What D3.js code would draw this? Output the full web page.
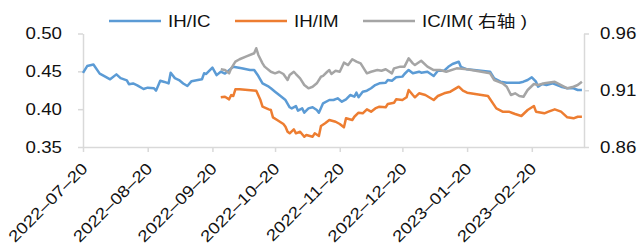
<!DOCTYPE html>
<html>
<head>
<meta charset="utf-8">
<script src="https://cdn.jsdelivr.net/npm/d3@7"></script>
<style>
  body { margin: 0; background: #fff; }
  text { font-family: "Liberation Sans", Arial, "Noto Sans CJK SC", sans-serif; fill: #111; }
</style>
</head>
<body>
<div id="chart"></div>
<script>
// IH/IC (left axis)
var ihicDates = ["2022-07-20","2022-07-22","2022-07-25","2022-07-28","2022-07-30","2022-08-02","2022-08-05","2022-08-07","2022-08-10","2022-08-11","2022-08-13","2022-08-15","2022-08-18","2022-08-20","2022-08-23","2022-08-24","2022-08-26","2022-08-28","2022-08-30","2022-08-31","2022-09-02","2022-09-04","2022-09-06","2022-09-08","2022-09-10","2022-09-13","2022-09-15","2022-09-16","2022-09-17","2022-09-20","2022-09-22","2022-09-24","2022-09-26","2022-09-30","2022-10-04","2022-10-08","2022-10-10","2022-10-12","2022-10-14","2022-10-17","2022-10-18","2022-10-20","2022-10-22","2022-10-25","2022-10-27","2022-10-28","2022-10-30","2022-10-31","2022-11-02","2022-11-03","2022-11-05","2022-11-07","2022-11-09","2022-11-10","2022-11-12","2022-11-15","2022-11-17","2022-11-19","2022-11-21","2022-11-23","2022-11-25","2022-11-27","2022-11-28","2022-11-29","2022-12-01","2022-12-03","2022-12-05","2022-12-07","2022-12-09","2022-12-12","2022-12-13","2022-12-15","2022-12-17","2022-12-20","2022-12-21","2022-12-23","2022-12-25","2022-12-28","2022-12-29","2023-01-01","2023-01-04","2023-01-06","2023-01-09","2023-01-11","2023-01-13","2023-01-16","2023-01-17","2023-01-20","2023-01-31","2023-02-02","2023-02-05","2023-02-08","2023-02-12","2023-02-14","2023-02-16","2023-02-18","2023-02-20","2023-02-22","2023-02-23","2023-02-25","2023-02-27","2023-03-02","2023-03-06","2023-03-09","2023-03-12","2023-03-14","2023-03-16"];
var ihicValues = [0.448,0.457,0.459,0.447,0.444,0.4395,0.446,0.441,0.438,0.433,0.434,0.4315,0.4267,0.4284,0.4276,0.4245,0.4376,0.436,0.434,0.448,0.441,0.4385,0.434,0.4306,0.437,0.4385,0.4395,0.4474,0.4465,0.455,0.445,0.4495,0.447,0.456,0.454,0.4518,0.4518,0.4438,0.434,0.4297,0.4276,0.4231,0.4187,0.4121,0.4025,0.401,0.404,0.398,0.401,0.3953,0.401,0.4025,0.3989,0.3953,0.4077,0.4121,0.4121,0.4143,0.4099,0.413,0.4187,0.4165,0.4218,0.4157,0.4231,0.4244,0.4276,0.4319,0.4342,0.435,0.4385,0.4376,0.4421,0.443,0.4465,0.4518,0.4474,0.4495,0.4482,0.4495,0.4438,0.4508,0.4508,0.456,0.4597,0.4627,0.456,0.4527,0.4495,0.4408,0.4363,0.435,0.435,0.435,0.4363,0.4385,0.4421,0.4363,0.4297,0.4333,0.4319,0.4342,0.4297,0.4276,0.4276,0.4253,0.4253];

// IH/IM (left axis)
var ihimDates = ["2022-09-24","2022-09-26","2022-09-28","2022-09-29","2022-09-30","2022-10-01","2022-10-03","2022-10-11","2022-10-13","2022-10-14","2022-10-17","2022-10-18","2022-10-19","2022-10-21","2022-10-24","2022-10-25","2022-10-26","2022-10-27","2022-10-29","2022-10-30","2022-11-01","2022-11-03","2022-11-04","2022-11-07","2022-11-08","2022-11-10","2022-11-11","2022-11-13","2022-11-15","2022-11-18","2022-11-20","2022-11-22","2022-11-23","2022-11-26","2022-11-27","2022-11-29","2022-12-01","2022-12-03","2022-12-05","2022-12-07","2022-12-09","2022-12-12","2022-12-13","2022-12-16","2022-12-17","2022-12-20","2022-12-22","2022-12-23","2022-12-25","2022-12-26","2022-12-28","2022-12-31","2023-01-04","2023-01-06","2023-01-09","2023-01-12","2023-01-16","2023-01-18","2023-01-20","2023-01-30","2023-02-03","2023-02-06","2023-02-09","2023-02-12","2023-02-15","2023-02-18","2023-02-21","2023-02-22","2023-02-26","2023-02-28","2023-03-03","2023-03-06","2023-03-09","2023-03-12","2023-03-14","2023-03-16"];
var ihimValues = [0.4157,0.4165,0.413,0.4187,0.4174,0.4262,0.4262,0.4244,0.4121,0.4033,0.3998,0.3989,0.3892,0.3857,0.3804,0.3768,0.3702,0.3681,0.3734,0.3681,0.3702,0.3636,0.3659,0.3636,0.3681,0.3645,0.3778,0.3813,0.3857,0.3834,0.3804,0.376,0.3879,0.3857,0.39,0.3953,0.3945,0.3998,0.3967,0.401,0.4033,0.4025,0.4068,0.4085,0.413,0.4121,0.4157,0.4253,0.4187,0.4157,0.421,0.4187,0.4121,0.4174,0.421,0.4231,0.4297,0.4244,0.4218,0.4174,0.401,0.3967,0.3967,0.3936,0.391,0.3989,0.4042,0.3967,0.3945,0.3967,0.3998,0.3967,0.3892,0.3879,0.39,0.39];

// IC/IM (right axis)
var icimDates = ["2022-09-24","2022-09-26","2022-09-28","2022-09-29","2022-10-01","2022-10-03","2022-10-06","2022-10-10","2022-10-11","2022-10-12","2022-10-14","2022-10-15","2022-10-18","2022-10-20","2022-10-22","2022-10-24","2022-10-26","2022-10-27","2022-10-29","2022-10-30","2022-11-01","2022-11-03","2022-11-05","2022-11-07","2022-11-09","2022-11-11","2022-11-12","2022-11-14","2022-11-15","2022-11-16","2022-11-18","2022-11-20","2022-11-22","2022-11-24","2022-11-26","2022-11-28","2022-11-30","2022-12-03","2022-12-05","2022-12-08","2022-12-10","2022-12-12","2022-12-15","2022-12-16","2022-12-19","2022-12-21","2022-12-23","2022-12-25","2022-12-26","2022-12-29","2023-01-01","2023-01-04","2023-01-07","2023-01-10","2023-01-15","2023-01-20","2023-01-31","2023-02-02","2023-02-06","2023-02-08","2023-02-10","2023-02-12","2023-02-14","2023-02-16","2023-02-18","2023-02-21","2023-02-23","2023-02-26","2023-03-03","2023-03-06","2023-03-09","2023-03-12","2023-03-14","2023-03-16"];
var icimValues = [0.9285,0.9278,0.9249,0.9293,0.9352,0.9373,0.9396,0.9426,0.947,0.9411,0.9337,0.9308,0.9263,0.9249,0.9263,0.9243,0.919,0.9234,0.9263,0.9243,0.9205,0.9146,0.9117,0.9131,0.9161,0.9219,0.9226,0.9263,0.9278,0.9243,0.9272,0.9263,0.9343,0.9322,0.9373,0.9352,0.9337,0.9249,0.9263,0.9278,0.9272,0.9285,0.9249,0.9293,0.9308,0.9308,0.9381,0.9337,0.9322,0.936,0.9308,0.9278,0.9278,0.9263,0.9293,0.9285,0.9249,0.919,0.9161,0.9131,0.9058,0.9073,0.9049,0.9043,0.9102,0.9155,0.9146,0.9161,0.9175,0.9146,0.9117,0.9131,0.9146,0.9175];

var seriesNames = ["IH/IC", "IH/IM", "IC/IM( 右轴 )"];
var xTickDates = ["2022-07-20","2022-08-20","2022-09-20","2022-10-20","2022-11-20","2022-12-20","2023-01-20","2023-02-20"];
var leftTicks = [0.35, 0.40, 0.45, 0.50];
var rightTicks = [0.86, 0.91, 0.96];

var colors = ["#5b9bd5", "#ed7d31", "#a5a5a5"];
var width = 637, height = 245;
var plotLeft = 83, plotRight = 584, plotTop = 33.5, plotBottom = 147;
var stretch = 1.17; // glyphs in the picture are a bit wide
var parse = d3.timeParse("%Y-%m-%d");

var svg = d3.select("#chart").append("svg")
  .attr("width", width)
  .attr("height", height);

var x = d3.scaleTime()
  .domain([parse("2022-07-20"), parse("2023-03-17")])
  .range([plotLeft, plotRight]);
var yL = d3.scaleLinear().domain([0.35, 0.50]).range([plotBottom, plotTop]);
var yR = d3.scaleLinear().domain([0.86, 0.96]).range([plotBottom, plotTop]);

function styleAxis(g) {
  g.select(".domain").attr("stroke", "#d9d9d9").attr("stroke-width", 1.5);
  g.selectAll(".tick line").attr("stroke", "#d9d9d9").attr("stroke-width", 1.5);
  g.selectAll("text").attr("font-size", 16)
    .attr("font-family", "'Liberation Sans', Arial, sans-serif").attr("fill", "#111");
}

// left axis
var gL = svg.append("g").attr("transform", "translate(" + plotLeft + ",0)")
  .call(d3.axisLeft(yL).tickValues(leftTicks).tickFormat(d3.format(".2f"))
    .tickSize(5).tickSizeOuter(0));
styleAxis(gL);
gL.selectAll("text").attr("x", -21 / stretch).attr("transform", "scale(" + stretch + ",1)");

// right axis
var gR = svg.append("g").attr("transform", "translate(" + plotRight + ",0)")
  .call(d3.axisRight(yR).tickValues(rightTicks).tickFormat(d3.format(".2f"))
    .tickSize(5).tickSizeOuter(0));
styleAxis(gR);
gR.selectAll("text").attr("x", 16 / stretch).attr("transform", "scale(" + stretch + ",1)");

// bottom axis
var gB = svg.append("g").attr("transform", "translate(0," + plotBottom + ")")
  .call(d3.axisBottom(x).tickValues(xTickDates.map(parse))
    .tickFormat(function(d) { return d3.timeFormat("%Y–%m–%d")(d); })
    .tickSize(5).tickSizeOuter(0));
styleAxis(gB);
gB.selectAll("text")
  .attr("x", 0).attr("y", 0).attr("dy", "0.71em")
  .attr("text-anchor", "end")
  .attr("transform", "translate(-3,14.5) rotate(-45) scale(" + stretch + ",1)");

// lines
var data = [
  {dates: ihicDates, values: ihicValues, y: yL},
  {dates: ihimDates, values: ihimValues, y: yL},
  {dates: icimDates, values: icimValues, y: yR}
];

data.forEach(function(s, i) {
  var pts = s.dates.map(function(d, j) { return [parse(d), s.values[j]]; });
  var line = d3.line()
    .x(function(d) { return x(d[0]); })
    .y(function(d) { return s.y(d[1]); });
  svg.append("path")
    .datum(pts)
    .attr("d", line)
    .attr("fill", "none")
    .attr("stroke", colors[i])
    .attr("stroke-width", 2.5)
    .attr("stroke-linejoin", "round");
});

// legend
var legendX = [109, 235, 363];
var leg = svg.selectAll(".leg")
  .data(seriesNames)
  .enter().append("g")
  .attr("class", "leg")
  .attr("transform", function(d, i) { return "translate(" + legendX[i] + ",21)"; });
leg.append("line")
  .attr("x1", 0).attr("x2", 52)
  .attr("stroke", function(d, i) { return colors[i]; })
  .attr("stroke-width", 2.5);
leg.append("text")
  .attr("x", 59 / stretch)
  .attr("dy", "0.35em")
  .attr("font-size", 16)
  .attr("transform", "scale(" + stretch + ",1)")
  .text(function(d) { return d; });
</script>
</body>
</html>
